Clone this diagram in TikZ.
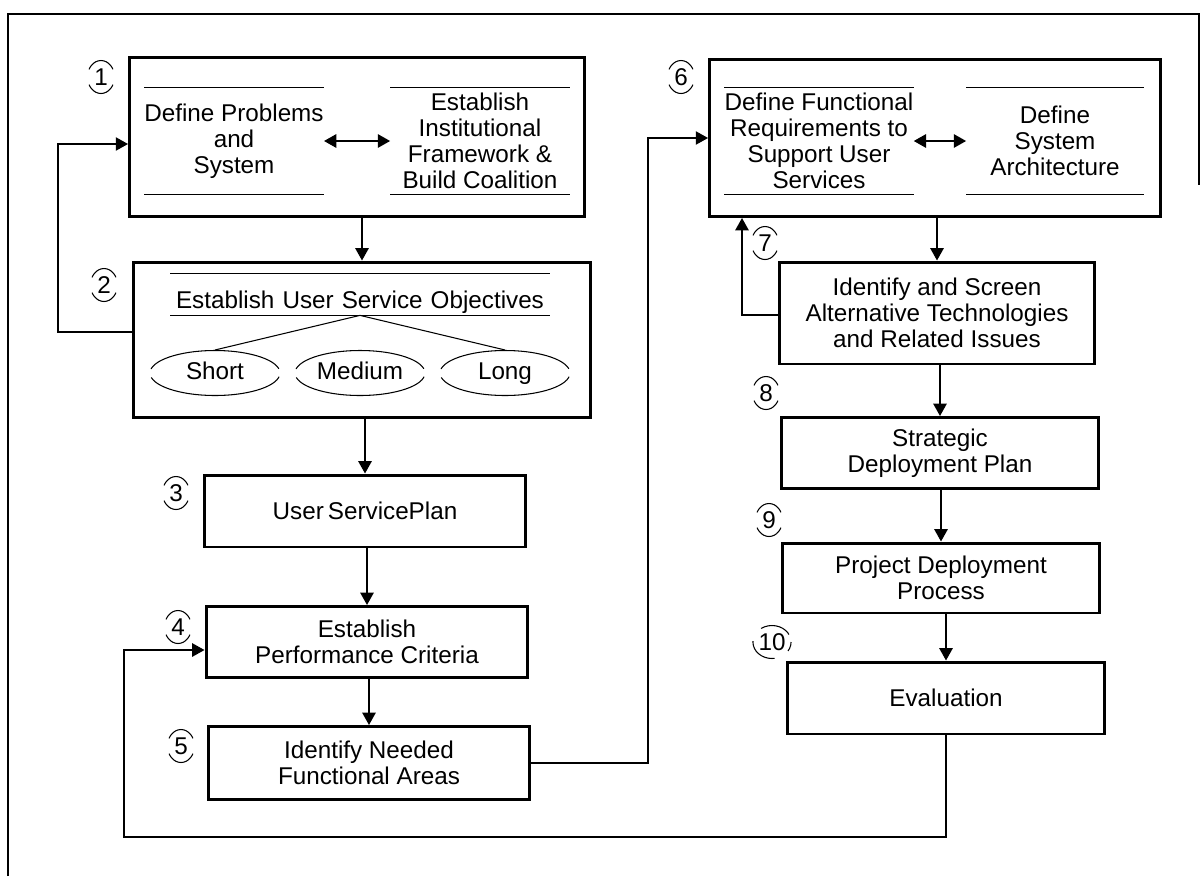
\documentclass[tikz,border=0pt]{standalone}
\usepackage{fontspec}
\setmainfont{Liberation Sans}
\usetikzlibrary{arrows.meta,shapes.geometric,calc}

\begin{document}
\begin{tikzpicture}[x=0.02cm, y=-0.02cm,
    font=\fontsize{13.8}{14.8}\selectfont,
    stage/.style={draw, line width=1.7pt, align=center, inner sep=0pt},
    sidetext/.style={align=center, inner sep=0pt, minimum height=2.12cm},
    rule/.style={line width=0.8pt},
    flow/.style={line width=1.1pt, -{Triangle[length=7pt,width=7.5pt]}},
    both/.style={line width=1.3pt, {Triangle[length=7pt,width=7.5pt]}-{Triangle[length=7pt,width=7.5pt]}},
    term/.style={draw, ellipse, line width=0.6pt, minimum width=2.6cm, minimum height=0.9cm,
        inner sep=0pt, text height=10pt, text depth=3pt, dash pattern=on 78pt off 5pt, dash phase=80.5pt},
    stepnum/.style={draw, ellipse, line width=0.6pt, minimum width=0.54cm, minimum height=0.66cm,
        inner sep=0pt, dash pattern=on 17.9pt off 8.9pt, dash phase=22.3pt}]
    \useasboundingbox (0,0) rectangle (1203,876);

    % Outer frame
    \draw[line width=1pt] (8,876) -- (8,14) -- (1199,14) -- (1199,185);

    % Left column
    \node[stage, minimum width=9.1cm, minimum height=3.18cm] (box1) at (357,137) {};
    \node[stage, minimum width=9.14cm, minimum height=3.12cm] (box2) at (362,340) {};
    \node[stage, minimum width=6.44cm, minimum height=1.44cm] (box3) at (365,511) {User\,ServicePlan};
    \node[stage, minimum width=6.44cm, minimum height=1.42cm] (box4) at (367,642) {Establish\\Performance Criteria};
    \node[stage, minimum width=6.42cm, minimum height=1.46cm] (box5) at (369,763) {Identify Needed\\Functional Areas};

    % Right column
    \node[stage, minimum width=9.02cm, minimum height=3.14cm] (box6) at (935,138) {};
    \node[stage, minimum width=6.32cm, minimum height=2.04cm] (box7) at (937,313) {Identify and Screen\\Alternative Technologies\\and Related Issues};
    \node[stage, minimum width=6.36cm, minimum height=1.42cm] (box8) at (940,453) {Strategic\\Deployment Plan};
    \node[stage, minimum width=6.36cm, minimum height=1.40cm] (box9) at (941,578) {Project Deployment\\Process};
    \node[stage, minimum width=6.36cm, minimum height=1.44cm] (box10) at (946,698) {Evaluation};

    % Inside step 1
    \node[sidetext, minimum width=3.56cm] (prob) at (234,141) {Define Problems\\and\\System};
    \node[sidetext, minimum width=3.58cm] (inst) at (480,141) {Establish\\Institutional\\Framework \&\\Build Coalition};
    \draw[rule] (prob.north west) -- (prob.north east) (prob.south west) -- (prob.south east);
    \draw[rule] (inst.north west) -- (inst.north east) (inst.south west) -- (inst.south east);
    \draw[both] (prob.east) -- (inst.west);

    % Inside step 6
    \node[sidetext, minimum width=3.76cm] (funreq) at (819,141) {Define Functional\\Requirements to\\Support User\\Services};
    \node[sidetext, minimum width=3.54cm] (arch) at (1055,141) {Define\\System\\Architecture};
    \draw[rule] (funreq.north west) -- (funreq.north east) (funreq.south west) -- (funreq.south east);
    \draw[rule] (arch.north west) -- (arch.north east) (arch.south west) -- (arch.south east);
    \draw[both] (funreq.east) -- (arch.west);

    % Inside step 2
    \node[anchor=base, text height=19.3pt, text depth=4pt, inner sep=0pt, text width=7.58cm, align=center]
        (uso) at (360,308) {Establish User Service Objectives};
    \draw[rule] (uso.north west) -- (uso.north east) (uso.south west) -- (uso.south east);
    \node[term] (short) at (215,373) {Short};
    \node[term] (medium) at (360,373) {Medium};
    \node[term] (long) at (505,373) {Long};
    \draw[line width=0.6pt] (short.north) -- (uso.south) -- (long.north);

    % Step numbers
    \foreach \n/\x/\y in {1/101/77, 2/104/285, 3/176/493, 4/178/627, 5/181/746,
                          6/681/77, 7/765/243, 8/766/393, 9/769/520, 10/772/642}
        \node[stepnum] (num\n) at (\x,\y) {\n};

    % Main flow
    \draw[flow] (box1.south -| box2.north) -- (box2.north);
    \draw[flow] (box2.south -| box3.north) -- (box3.north);
    \draw[flow] (box3.south -| box4.north) -- (box4.north);
    \draw[flow] (box4.south -| box5.north) -- (box5.north);
    \draw[flow] (box6.south -| box7.north) -- (box7.north);
    \draw[flow] (box7.south -| box8.north) -- (box8.north);
    \draw[flow] (box8.south -| box9.north) -- (box9.north);
    \draw[flow] (box9.south -| box10.north) -- (box10.north);

    % Feedback loops
    \coordinate (back12) at (58,332);
    \draw[flow] (box2.west |- back12) -- (back12) |- ($(box1.west)+(0,7)$);
    \coordinate (up56) at (648,763);
    \draw[flow] (box5.east) -- (up56) |- (box6.west);
    \coordinate (up76) at (742,315);
    \draw[flow] (box7.west |- up76) -- (up76) -- (up76 |- box6.south);
    \coordinate (back104) at (124,837);
    \draw[flow] (box10.south) |- (back104) |- ($(box4.west)+(0,8)$);
\end{tikzpicture}
\end{document}
